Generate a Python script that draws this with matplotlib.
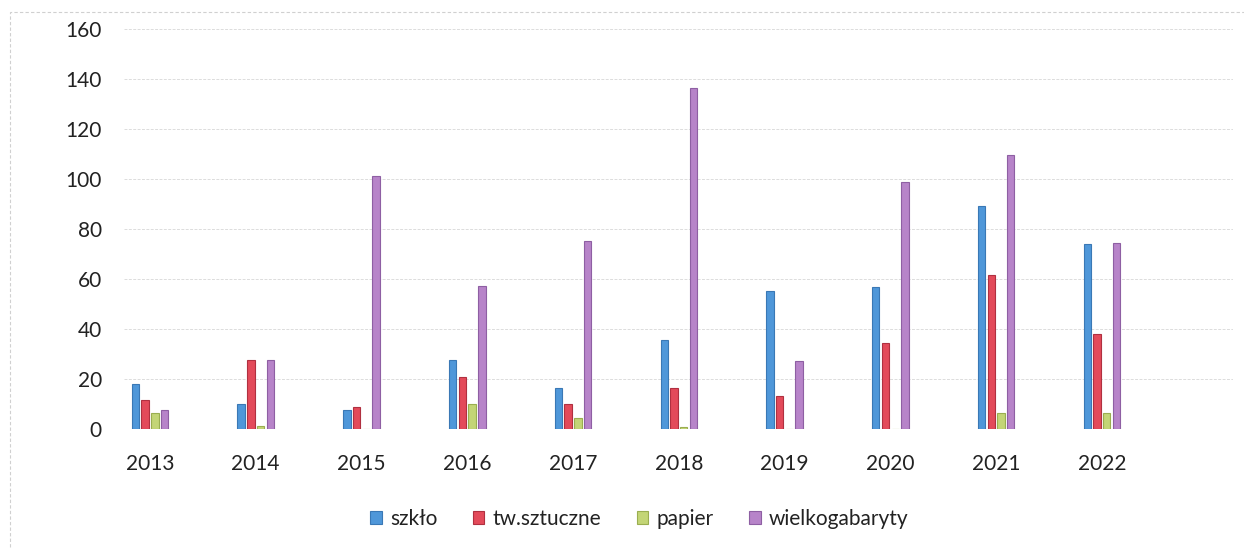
import numpy as np
import matplotlib.pyplot as plt
from matplotlib.patches import Rectangle

# data
years = ['2013', '2014', '2015', '2016', '2017', '2018', '2019', '2020', '2021', '2022']
szklo = [18, 10, 7.6, 27.5, 16.3, 35.5, 55, 56.6, 89, 74]
tw_sztuczne = [11.5, 27.5, 8.8, 20.7, 10, 16.4, 13.3, 34.5, 61.5, 38]
papier = [6.4, 1.2, 0, 10, 4.4, 0.8, 0, 0, 6.2, 6.2]
wielkogabaryty = [7.6, 27.5, 101, 57, 75, 136.3, 27.3, 98.6, 109.6, 74.2]

series = [
    ('szkło', szklo, '#4f97d9', '#3a78b5'),
    ('tw.sztuczne', tw_sztuczne, '#e34a5a', '#b03040'),
    ('papier', papier, '#c3d576', '#9aae50'),
    ('wielkogabaryty', wielkogabaryty, '#b784c9', '#8e5fa3'),
]

plt.rcParams['font.family'] = ['Lato', 'DejaVu Sans']

fig = plt.figure(figsize=(12.44, 5.49), dpi=100)
ax = fig.add_axes([0.0997, 0.2186, 0.8915, 0.7286])

x = np.arange(len(years))
step = 0.092
width = 0.07
for i, (name, vals, col, ec) in enumerate(series):
    ax.bar(x + (i - 1.5) * step, vals, width, color=col, edgecolor=ec,
           linewidth=0.8, label=name, zorder=3)

ax.set_xlim(-0.245, 10.24)
ax.set_ylim(0, 160)
ax.set_yticks(np.arange(0, 161, 20))
ax.set_xticks(x)
ax.set_xticklabels(years)
ax.grid(axis='y', color='#dcdcdc', linewidth=0.7, linestyle=(0, (3, 1.5)), zorder=0)
for s in ax.spines.values():
    s.set_visible(False)
ax.tick_params(axis='both', length=0, labelsize=15, colors='#222222')
ax.tick_params(axis='x', pad=18)
ax.tick_params(axis='y', pad=16)

fig.legend(loc='center', bbox_to_anchor=(0.514, 0.055), ncol=4, frameon=False,
           fontsize=15, handlelength=0.55, handleheight=0.55, handletextpad=0.4,
           columnspacing=1.7, labelcolor='#222222')

# light frame around the chart
fig.patches.append(Rectangle((0.008, -0.02), 1.1, 0.998, transform=fig.transFigure,
                             fill=False, edgecolor='#d0d0d0', linewidth=0.8,
                             linestyle=(0, (3, 2))))

fig.savefig('out.png', dpi=100)
